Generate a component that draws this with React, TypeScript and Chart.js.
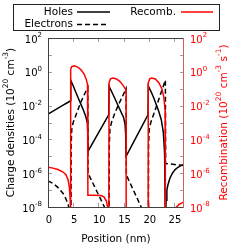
import React, { useEffect, useRef } from 'react';
import { Chart, registerables } from 'chart.js';

Chart.register(...registerables);

const FONT = '"DejaVu Sans", sans-serif';

// Position (nm) and hole density (1e20 cm^-3)
const holesX = [0, 1, 2, 3, 4, 4.45, 4.52, 5.0, 5.5, 6.0, 6.5, 7.0, 7.5, 7.8, 7.88, 7.95,
  12.05, 12.12, 13, 14, 15, 15.3, 15.42, 15.5,
  19.85, 19.92, 20.5, 21, 21.5, 22, 22.5, 22.9, 23.15, 23.3,
  23.45, 23.6, 23.8, 24.2, 24.7, 25.2, 25.8, 26.4, 27];
const holesY = [3.16e-3, 4.68e-3, 7.08e-3, 1.07e-2, 1.58e-2, 1.91e-2, 3.16e-1, 1.51e-1, 6.31e-2, 2.82e-2, 1.26e-2, 5.62e-3, 2.24e-3, 1.0e-3, 3.16e-4, 2.0e-5,
  2.82e-3, 1.41e-1, 3.98e-2, 8.91e-3, 2.0e-3, 7.94e-4, 2.0e-4, 1.0e-5,
  2.82e-3, 1.41e-1, 6.31e-2, 2.82e-2, 1.12e-2, 4.47e-3, 1.41e-3, 2.51e-4, 1.58e-5, 1e-9,
  2.51e-8, 1e-7, 2.0e-7, 5.01e-7, 1e-6, 1.58e-6, 2.24e-6, 2.82e-6, 3.31e-6];

// Electron density (1e20 cm^-3)
const electronsX = [0, 1, 2, 3, 3.5, 4.0, 4.3, 4.45,
  4.55, 4.6, 4.72, 5.0, 5.5, 6.0, 6.5, 7.0, 7.5, 7.9,
  7.95, 11.2, 12.05,
  12.12, 12.17, 12.3, 12.6, 13.2, 14, 14.8, 15.5,
  15.55, 18.5, 19.85,
  19.92, 19.97, 20.1, 20.4, 21, 21.8, 22.6, 23.3,
  23.35, 24.5, 25.5, 27];
const electronsY = [3.55e-7, 2.51e-7, 1.41e-7, 6.31e-8, 3.31e-8, 1.41e-8, 5.01e-9, 3.16e-10,
  3.16e-10, 5.01e-5, 3.98e-4, 1e-3, 2.51e-3, 6.31e-3, 1.51e-2, 3.39e-2, 6.76e-2, 1.12e-1,
  1e-6, 1e-8, 2.51e-9,
  3.16e-10, 5.01e-5, 3.98e-4, 1e-3, 3.16e-3, 1.12e-2, 3.55e-2, 1e-1,
  7.94e-7, 1e-8, 1.26e-9,
  3.16e-10, 5.01e-5, 3.98e-4, 1e-3, 3.16e-3, 1.58e-2, 7.94e-2, 3.16e-1,
  3.72e-6, 3.47e-6, 3.16e-6, 2.82e-6];

// Recombination rate (1e20 cm^-3 s^-1)
const recombX = [0, 1, 2, 3, 3.6, 4.0, 4.25, 4.4, 4.48,
  4.52, 4.7, 5.2, 5.9, 6.6, 7.2, 7.6, 7.85, 7.9,
  7.93, 9, 10.5, 11.1, 11.6, 11.95, 12.08,
  12.12, 12.4, 12.9, 13.6, 14.3, 14.9, 15.3, 15.5,
  15.52, 19.88,
  19.9, 20.2, 20.6, 21.3, 22.0, 22.6, 23.0, 23.25, 23.3,
  25, 25.5, 26, 26.5, 27];
const recombY = [2.24e-6, 2.0e-6, 1.66e-6, 1.17e-6, 7.94e-7, 3.98e-7, 1.41e-7, 3.16e-8, 2.51e-9,
  1.41, 2.0, 2.24, 1.91, 1.26, 7.08e-1, 3.55e-1, 1.78e-1, 1.41e-1,
  5.01e-8, 5.01e-8, 4.79e-8, 3.98e-8, 2.24e-8, 6.31e-9, 3.16e-10,
  2.24e-1, 3.8e-1, 4.27e-1, 3.8e-1, 2.63e-1, 1.58e-1, 1.05e-1, 7.94e-2,
  1e-10, 1e-10,
  2.24e-1, 3.8e-1, 4.27e-1, 3.8e-1, 2.24e-1, 1e-1, 3.16e-2, 5.01e-3, 1e-10,
  1e-9, 1e-8, 1.41e-8, 1.7e-8, 2.0e-8];

const xTicks = [0, 5, 10, 15, 20, 25];
const yTickExponents = [-8, -6, -4, -2, 0, 2];
const seriesLabels = ['Holes', 'Electrons', 'Recomb.'];
const xTitle = 'Position (nm)';

const RED = '#ff0000';

type Seg = { t: string; sup?: boolean };

function drawRich(ctx: CanvasRenderingContext2D, segs: Seg[], x: number, y: number,
  align: string, rot: number, size: number, supSize: number, supShift: number, color: string) {
  ctx.save();
  ctx.translate(x, y);
  if (rot) ctx.rotate(rot);
  ctx.textBaseline = 'middle';
  ctx.textAlign = 'left';
  ctx.fillStyle = color;
  let total = 0;
  const widths = segs.map((s) => {
    ctx.font = `${s.sup ? supSize : size}px ${FONT}`;
    const w = ctx.measureText(s.t).width;
    total += w;
    return w;
  });
  let cx = align === 'right' ? -total : align === 'center' ? -total / 2 : 0;
  segs.forEach((s, i) => {
    ctx.font = `${s.sup ? supSize : size}px ${FONT}`;
    ctx.fillText(s.t, cx, s.sup ? -supShift : 0);
    cx += widths[i];
  });
  ctx.restore();
}

const framePlugin = {
  id: 'gnuFrame',
  afterDraw(chart: any) {
    const { ctx, chartArea: a, scales } = chart;
    const xs = scales.x;
    const ys = scales.y;
    ctx.save();
    // tick marks
    ctx.lineWidth = 1;
    ctx.strokeStyle = '#a0a0a0';
    ctx.beginPath();
    for (let k = -8; k <= 2; k++) {
      const py = Math.round(ys.getPixelForValue(Math.pow(10, k))) + 0.5;
      ctx.moveTo(a.left, py); ctx.lineTo(a.left + 4, py);
      ctx.moveTo(a.right - 4, py); ctx.lineTo(a.right, py);
    }
    xTicks.forEach((v) => {
      const px = Math.round(xs.getPixelForValue(v)) + 0.5;
      ctx.moveTo(px, a.bottom); ctx.lineTo(px, a.bottom - 4);
      ctx.moveTo(px, a.top); ctx.lineTo(px, a.top + 4);
    });
    ctx.stroke();
    // frame
    ctx.strokeStyle = '#404040';
    ctx.beginPath();
    ctx.moveTo(a.left + 0.5, a.top); ctx.lineTo(a.left + 0.5, a.bottom);
    ctx.moveTo(a.left, a.bottom + 0.5); ctx.lineTo(a.right, a.bottom + 0.5);
    ctx.moveTo(a.left, a.top + 0.5); ctx.lineTo(a.right, a.top + 0.5);
    ctx.stroke();
    ctx.strokeStyle = '#d06060';
    ctx.beginPath();
    ctx.moveTo(a.right - 0.5, a.top); ctx.lineTo(a.right - 0.5, a.bottom + 1);
    ctx.stroke();

    // y tick labels
    yTickExponents.forEach((k) => {
      const py = ys.getPixelForValue(Math.pow(10, k));
      drawRich(ctx, [{ t: '10' }, { t: String(k), sup: true }], a.left - 6, py + 2, 'right', 0, 10, 7, 4.5, '#000');
      drawRich(ctx, [{ t: '10' }, { t: String(k), sup: true }], a.right + 6, py + 2, 'left', 0, 10, 7, 4.5, RED);
    });
    // x tick labels
    ctx.font = `10px ${FONT}`;
    ctx.fillStyle = '#000';
    ctx.textAlign = 'center';
    ctx.textBaseline = 'middle';
    xTicks.forEach((v) => {
      ctx.fillText(String(v), xs.getPixelForValue(v) + 1, a.bottom + 13);
    });
    // titles
    const cy = (a.top + a.bottom) / 2;
    drawRich(ctx, [{ t: xTitle }], (a.left + a.right) / 2, a.bottom + 32, 'center', 0, 10.5, 7.5, 4.5, '#000');
    drawRich(ctx, [{ t: 'Charge densities (10' }, { t: '20', sup: true }, { t: ' cm' }, { t: '-3', sup: true }, { t: ')' }],
      11, cy, 'center', -Math.PI / 2, 10.5, 7.5, 4.5, '#000');
    drawRich(ctx, [{ t: 'Recombination (10' }, { t: '20', sup: true }, { t: ' cm' }, { t: '-3', sup: true }, { t: ' s' }, { t: '-1', sup: true }, { t: ')' }],
      224, cy, 'center', -Math.PI / 2, 10.5, 7.5, 4.5, RED);

    // legend
    ctx.strokeStyle = '#222';
    ctx.lineWidth = 1;
    ctx.strokeRect(13.5, 4.5, 206, 26);
    drawRich(ctx, [{ t: seriesLabels[0] }], 73, 12, 'right', 0, 10.5, 7.5, 4.5, '#000');
    drawRich(ctx, [{ t: seriesLabels[1] }], 73, 24.5, 'right', 0, 10.5, 7.5, 4.5, '#000');
    drawRich(ctx, [{ t: seriesLabels[2] }], 176, 12, 'right', 0, 10.5, 7.5, 4.5, '#000');
    ctx.lineWidth = 1.5;
    ctx.strokeStyle = '#000';
    ctx.beginPath(); ctx.moveTo(77, 12); ctx.lineTo(110, 12); ctx.stroke();
    ctx.setLineDash([5, 3]);
    ctx.beginPath(); ctx.moveTo(77, 24.5); ctx.lineTo(109, 24.5); ctx.stroke();
    ctx.setLineDash([]);
    ctx.strokeStyle = RED;
    ctx.beginPath(); ctx.moveTo(181, 12); ctx.lineTo(213, 12); ctx.stroke();
    ctx.restore();
  },
};

function pts(xs: number[], ys: number[]) {
  return xs.map((x, i) => ({ x, y: ys[i] }));
}

export default function App() {
  const ref = useRef<HTMLCanvasElement>(null);
  useEffect(() => {
    if (!ref.current) return;
    const chart = new Chart(ref.current, {
      type: 'scatter',
      data: {
        datasets: [
          {
            label: seriesLabels[2], data: pts(recombX, recombY), yAxisID: 'y2', order: 0,
            showLine: true, borderColor: RED, borderWidth: 1.5, pointRadius: 0, fill: false,
          },
          {
            label: seriesLabels[0], data: pts(holesX, holesY), yAxisID: 'y', order: 1,
            showLine: true, borderColor: '#000', borderWidth: 1.5, pointRadius: 0, fill: false,
          },
          {
            label: seriesLabels[1], data: pts(electronsX, electronsY), yAxisID: 'y', order: 2,
            showLine: true, borderColor: '#000', borderWidth: 1.5, borderDash: [5, 3], pointRadius: 0, fill: false,
          },
        ],
      },
      options: {
        responsive: false,
        maintainAspectRatio: false,
        animation: false,
        layout: { padding: { left: 48, right: 65, top: 38, bottom: 41 } },
        plugins: { legend: { display: false }, tooltip: { enabled: false } },
        scales: {
          x: { type: 'linear', min: 0, max: 27, display: false },
          y: { type: 'logarithmic', min: 1e-8, max: 1e2, display: false },
          y2: { type: 'logarithmic', min: 1e-8, max: 1e2, display: false, position: 'right' },
        },
      },
      plugins: [framePlugin],
    } as any);
    return () => chart.destroy();
  }, []);
  return (
    <div style={{ position: 'fixed', left: 0, top: 0, width: 249, height: 248, background: '#fff' }}>
      <canvas ref={ref} width={249} height={248} style={{ display: 'block', width: 249, height: 248 }} />
    </div>
  );
}
